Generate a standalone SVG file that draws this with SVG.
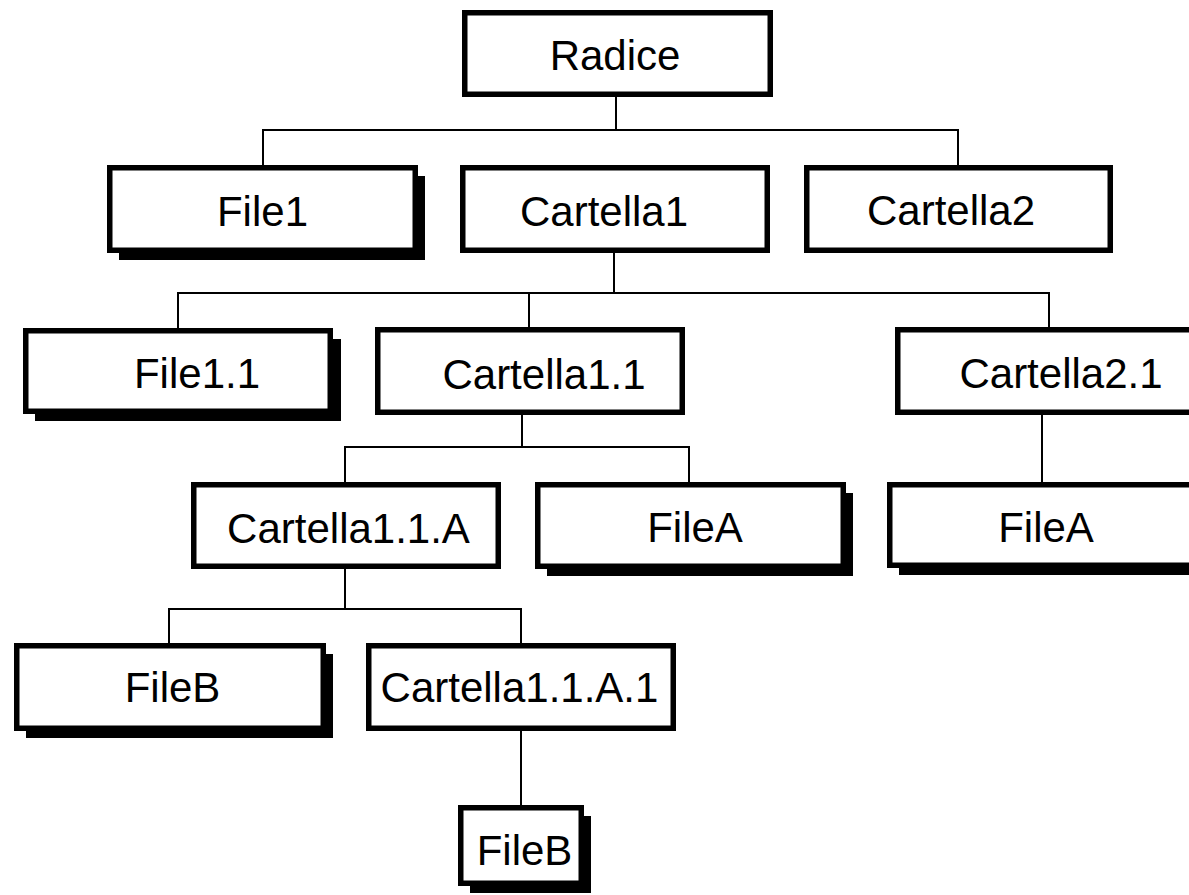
<svg xmlns="http://www.w3.org/2000/svg" width="1189" height="895" viewBox="0 0 1189 895">
<style>
.box{fill:#fff;stroke:#000;stroke-width:5.5}
.sh{fill:#000}
.lbl{font-family:"Liberation Sans",Arial,sans-serif;font-size:42px;fill:#000;text-anchor:middle}
.conn{fill:none;stroke:#000;stroke-width:2}
</style>
<rect width="1189" height="895" fill="#fff"/>
<g id="connectors" class="conn">
<path d="M616 97V130M263 165V130H958V165"/>
<path d="M614 253V293M178 328V293H1049V327M529 293V327"/>
<path d="M522 405V447M345 482V447H689V482"/>
<path d="M1042 405V482"/>
<path d="M345 569V609M169 643V609H521V643"/>
<path d="M521 731V805"/>
</g>
<g id="radice"><rect class="box" x="464.75" y="12.75" width="305.5" height="81.5"/><text class="lbl" x="615" y="70">Radice</text></g>
<g id="file1"><rect class="sh" x="119" y="176" width="306" height="84"/><rect class="box" x="109.75" y="167.75" width="305.5" height="82.5"/><text class="lbl" x="262.5" y="226">File1</text></g>
<g id="cartella1"><rect class="box" x="462.75" y="167.75" width="304.5" height="82.5"/><text class="lbl" x="604" y="226">Cartella1</text></g>
<g id="cartella2"><rect class="box" x="806.75" y="167.75" width="303.5" height="82.5"/><text class="lbl" x="951" y="225">Cartella2</text></g>
<g id="file1-1"><rect class="sh" x="35" y="339" width="306" height="82"/><rect class="box" x="25.75" y="330.75" width="304.5" height="80.5"/><text class="lbl" x="197" y="388">File1.1</text></g>
<g id="cartella1-1"><rect class="box" x="377.75" y="329.75" width="304.5" height="82.5"/><text class="lbl" x="544" y="389">Cartella1.1</text></g>
<g id="cartella2-1"><rect class="box" x="897.75" y="329.75" width="304.5" height="82.5"/><text class="lbl" x="1061" y="388">Cartella2.1</text></g>
<g id="cartella1-1-a"><rect class="box" x="193.75" y="484.75" width="304.5" height="81.5"/><text class="lbl" x="348.5" y="543">Cartella1.1.A</text></g>
<g id="filea-1"><rect class="sh" x="547" y="493" width="306" height="83"/><rect class="box" x="537.75" y="484.75" width="305.5" height="81.5"/><text class="lbl" x="695" y="542">FileA</text></g>
<g id="filea-2"><rect class="sh" x="899" y="493" width="305" height="82"/><rect class="box" x="889.75" y="484.75" width="304.5" height="80.5"/><text class="lbl" x="1046" y="542">FileA</text></g>
<g id="fileb-1"><rect class="sh" x="26" y="654" width="307" height="84"/><rect class="box" x="16.75" y="645.75" width="306.5" height="82.5"/><text class="lbl" x="172.5" y="702">FileB</text></g>
<g id="cartella1-1-a-1"><rect class="box" x="368.75" y="645.75" width="304.5" height="82.5"/><text class="lbl" x="519.5" y="702">Cartella1.1.A.1</text></g>
<g id="fileb-2"><rect class="sh" x="470" y="816" width="121" height="77"/><rect class="box" x="460.75" y="807.75" width="120.5" height="75.5"/><text class="lbl" x="524.5" y="865">FileB</text></g>
</svg>
